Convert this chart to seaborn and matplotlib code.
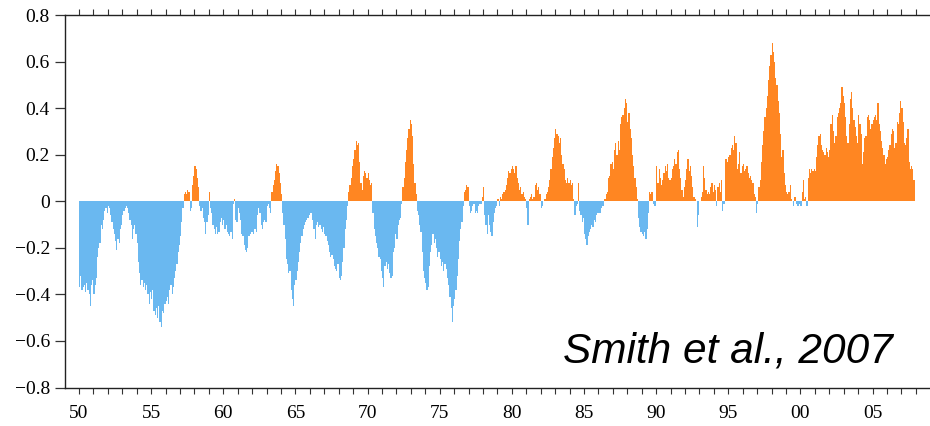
import numpy as np
import pandas as pd
import matplotlib
matplotlib.use("Agg")
import matplotlib.pyplot as plt
import seaborn as sns

# Monthly anomalies, one row of 12 per year, January 1950 onward
anom_1950s = [
    -0.37, -0.32, -0.38, -0.37, -0.36, -0.39, -0.35, -0.38, -0.40, -0.45, -0.36, -0.34,
    -0.40, -0.36, -0.33, -0.24, -0.20, -0.18, -0.10, -0.12, -0.08, -0.04, -0.03, -0.05,
    -0.02, -0.03, -0.06, -0.09, -0.12, -0.14, -0.17, -0.21, -0.16, -0.18, -0.12, -0.10,
    -0.06, -0.04, -0.03, -0.02, -0.03, -0.05, -0.08, -0.10, -0.16, -0.12, -0.10, -0.14,
    -0.18, -0.26, -0.31, -0.36, -0.34, -0.37, -0.35, -0.38, -0.36, -0.40, -0.44, -0.39,
    -0.42, -0.38, -0.47, -0.49, -0.46, -0.50, -0.45, -0.52, -0.54, -0.47, -0.48, -0.44,
    -0.43, -0.41, -0.44, -0.38, -0.36, -0.40, -0.37, -0.33, -0.30, -0.27, -0.22, -0.19,
    -0.15, -0.09, -0.03, 0.03, 0.04, 0.03, 0.05, 0.04, -0.04, -0.03, 0.07, 0.11,
    0.15, 0.14, 0.10, 0.06, -0.02, -0.04, -0.03, -0.07, -0.09, -0.14, -0.09, -0.06,
    0.04, -0.03, -0.05, -0.10, -0.12, -0.14, -0.11, -0.14, -0.13, -0.09, -0.07, -0.10,
]
anom_1960s = [
    -0.08, -0.12, -0.10, -0.13, -0.14, -0.15, -0.13, -0.16, -0.01, 0.01, -0.08, -0.09,
    -0.03, -0.05, -0.08, -0.14, -0.15, -0.19, -0.21, -0.22, -0.20, -0.15, -0.14, -0.13,
    -0.13, -0.14, -0.12, -0.13, -0.06, -0.03, -0.05, -0.10, -0.12, -0.09, -0.08, -0.09,
    -0.02, -0.01, -0.03, -0.05, 0.04, 0.07, 0.09, 0.13, 0.16, 0.15, 0.12, 0.08,
    0.03, -0.05, -0.10, -0.16, -0.25, -0.27, -0.31, -0.30, -0.38, -0.42, -0.45, -0.36,
    -0.34, -0.30, -0.26, -0.22, -0.18, -0.15, -0.12, -0.10, -0.09, -0.08, -0.07, -0.06,
    -0.05, -0.05, -0.08, -0.12, -0.16, -0.10, -0.09, -0.11, -0.10, -0.12, -0.13, -0.11,
    -0.14, -0.15, -0.17, -0.19, -0.22, -0.24, -0.23, -0.25, -0.28, -0.29, -0.30, -0.27,
    -0.33, -0.34, -0.32, -0.26, -0.20, -0.12, -0.08, -0.02, 0.04, 0.07, 0.10, 0.15,
    0.18, 0.22, 0.26, 0.24, 0.25, 0.17, 0.08, 0.05, 0.11, 0.13, 0.12, 0.10,
]
anom_1970s = [
    0.12, 0.09, 0.07, 0.08, -0.05, -0.12, -0.15, -0.18, -0.20, -0.24, -0.25, -0.30,
    -0.33, -0.37, -0.28, -0.26, -0.29, -0.27, -0.31, -0.33, -0.32, -0.22, -0.20, -0.14,
    -0.16, -0.10, -0.08, -0.07, -0.01, 0.06, 0.10, 0.17, 0.22, 0.27, 0.31, 0.35,
    0.33, 0.28, 0.16, 0.08, 0.03, -0.04, -0.06, -0.10, -0.13, -0.22, -0.30, -0.33,
    -0.35, -0.38, -0.37, -0.28, -0.22, -0.19, -0.14, -0.18, -0.16, -0.20, -0.24, -0.22,
    -0.25, -0.28, -0.26, -0.30, -0.27, -0.29, -0.33, -0.36, -0.41, -0.46, -0.52, -0.45,
    -0.42, -0.38, -0.32, -0.25, -0.17, -0.12, -0.09, -0.02, 0.04, 0.05, 0.07, 0.06,
    -0.02, -0.05, -0.04, -0.02, -0.01, -0.05, -0.04, -0.05, -0.02, -0.01, -0.01, 0.02,
    0.06, -0.06, -0.10, -0.14, -0.06, -0.10, -0.13, -0.15, -0.09, -0.05, -0.03, -0.02,
    0.01, -0.02, 0.02, 0.01, 0.03, 0.04, 0.05, 0.07, 0.10, 0.13, 0.12, 0.14,
]
anom_1980s = [
    0.15, 0.14, 0.12, 0.15, 0.10, 0.08, 0.05, 0.06, 0.03, 0.04, 0.02, 0.01,
    -0.03, -0.10, 0.01, 0.02, 0.03, 0.01, 0.02, 0.07, 0.08, 0.05, 0.06, 0.03,
    -0.03, -0.02, 0.00, 0.01, 0.03, 0.04, 0.06, 0.09, 0.14, 0.19, 0.23, 0.27,
    0.31, 0.29, 0.28, 0.25, 0.27, 0.20, 0.16, 0.14, 0.09, 0.08, 0.10, 0.08,
    0.09, 0.07, 0.08, 0.01, -0.06, -0.02, -0.01, 0.08, -0.04, -0.06, -0.09, -0.07,
    -0.14, -0.16, -0.19, -0.15, -0.13, -0.12, -0.10, -0.11, -0.08, -0.09, -0.06, -0.05,
    -0.05, -0.05, -0.03, -0.02, -0.02, 0.01, 0.03, 0.04, 0.10, 0.11, 0.16, 0.17,
    0.14, 0.22, 0.25, 0.20, 0.26, 0.22, 0.33, 0.36, 0.37, 0.40, 0.44, 0.42,
    0.34, 0.38, 0.31, 0.27, 0.20, 0.15, 0.10, 0.06, 0.01, -0.07, -0.11, -0.13,
    -0.14, -0.15, -0.13, -0.16, -0.12, -0.05, 0.04, 0.03, 0.04, -0.01, -0.02, -0.02,
]
anom_1990s = [
    0.15, 0.08, 0.14, 0.10, 0.07, 0.09, 0.12, 0.15, 0.13, 0.16, 0.10, 0.09,
    0.10, 0.14, 0.15, 0.18, 0.16, 0.21, 0.22, 0.14, 0.10, 0.05, 0.02, 0.06,
    0.09, 0.14, 0.18, 0.13, 0.15, 0.11, 0.06, 0.02, 0.01, 0.00, -0.11, -0.06,
    0.00, 0.02, 0.04, 0.15, 0.10, 0.05, 0.03, 0.04, 0.03, 0.06, 0.08, 0.04,
    0.07, 0.05, -0.02, 0.06, 0.08, 0.04, 0.09, -0.04, -0.01, 0.18, 0.18, 0.17,
    0.19, 0.20, 0.23, 0.24, 0.22, 0.28, 0.25, 0.14, 0.16, 0.21, 0.12, 0.15,
    0.16, 0.13, 0.14, 0.15, 0.12, 0.10, 0.11, 0.09, 0.08, 0.03, 0.02, -0.05,
    -0.01, 0.06, 0.09, 0.17, 0.24, 0.30, 0.36, 0.40, 0.45, 0.52, 0.58, 0.63,
    0.68, 0.64, 0.60, 0.53, 0.50, 0.43, 0.38, 0.29, 0.19, 0.22, 0.12, 0.07,
    0.04, 0.03, 0.04, 0.07, 0.01, 0.00, -0.02, 0.02, -0.01, -0.02, -0.02, -0.01,
]
anom_2000s = [
    -0.02, 0.04, 0.09, 0.01, 0.02, -0.02, 0.10, 0.14, 0.12, 0.14, 0.13, 0.14,
    0.13, 0.19, 0.24, 0.28, 0.29, 0.24, 0.22, 0.21, 0.20, 0.23, 0.21, 0.19,
    0.22, 0.33, 0.37, 0.30, 0.25, 0.28, 0.36, 0.38, 0.40, 0.42, 0.49, 0.45,
    0.42, 0.36, 0.28, 0.25, 0.33, 0.44, 0.47, 0.40, 0.35, 0.32, 0.28, 0.25,
    0.37, 0.33, 0.29, 0.16, 0.21, 0.27, 0.28, 0.36, 0.37, 0.35, 0.31, 0.33,
    0.35, 0.36, 0.37, 0.35, 0.42, 0.33, 0.30, 0.26, 0.23, 0.20, 0.16, 0.18,
    0.19, 0.22, 0.24, 0.29, 0.31, 0.30, 0.23, 0.25, 0.34, 0.33, 0.38, 0.43,
    0.40, 0.34, 0.25, 0.24, 0.27, 0.31, 0.17, 0.14, 0.15, 0.14, 0.09,
]

start_year = 1950
x_tick_years = list(range(1950, 2006, 5))
x_tick_labels = ["50", "55", "60", "65", "70", "75", "80", "85", "90", "95", "00", "05"]
y_ticks = [-0.8, -0.6, -0.4, -0.2, 0.0, 0.2, 0.4, 0.6, 0.8]
y_tick_labels = ["\u22120.8", "\u22120.6", "\u22120.4", "\u22120.2", "0", "0.2", "0.4", "0.6", "0.8"]
credit = "Smith et al., 2007"

values = np.array(anom_1950s + anom_1960s + anom_1970s + anom_1980s + anom_1990s + anom_2000s)
months = np.arange(len(values))
df = pd.DataFrame({
    "time": np.round(start_year + (months + 0.5) / 12.0, 5),
    "anomaly": values,
    "sign": np.where(values >= 0, "warm", "cool"),
})

sns.set_style("white")
plt.rcParams["font.family"] = ["Liberation Serif", "DejaVu Serif"]

W, H = 930, 426
fig = plt.figure(figsize=(W / 100, H / 100), dpi=100)
left_px, right_px, top_px, bottom_px = 64.5, 930.3, 15.0, 387.5
ax = fig.add_axes([left_px / W, 1 - bottom_px / H,
                   (right_px - left_px) / W, (bottom_px - top_px) / H])

sns.barplot(data=df, x="time", y="anomaly", hue="sign",
            palette={"warm": "#FF8622", "cool": "#6AB8F0"},
            native_scale=True, dodge=False, width=1.0, saturation=1,
            linewidth=0, errorbar=None, legend=False, ax=ax)

ax.set_xlim(1949.0, 2009.0)
ax.set_ylim(-0.8, 0.8)
ax.set_xlabel("")
ax.set_ylabel("")

ax.set_xticks(x_tick_years)
ax.set_xticklabels(x_tick_labels, fontsize=14)
ax.set_xticks(list(range(1950, 2009)), minor=True)
ax.set_yticks(y_ticks)
ax.set_yticklabels(y_tick_labels, fontsize=14)

for side in ["left", "bottom", "top"]:
    ax.spines[side].set_visible(True)
    ax.spines[side].set_linewidth(1.0)
    ax.spines[side].set_color("#222222")
ax.spines["right"].set_visible(False)

ax.tick_params(axis="x", which="both", bottom=True, top=True, direction="out",
               length=4.6, width=0.8, color="#333333", pad=8.0, labelcolor="black")
ax.tick_params(axis="y", which="major", left=True, right=False, direction="out",
               length=7.0, width=0.9, color="#333333", pad=3.5, labelcolor="black")
ax.grid(False)

ax.text(0.957, 0.066, credit, transform=ax.transAxes, ha="right", va="baseline",
        fontsize=30.5, style="italic", family=["Liberation Sans", "DejaVu Sans"],
        color="black")

fig.savefig("out.png", dpi=100)
